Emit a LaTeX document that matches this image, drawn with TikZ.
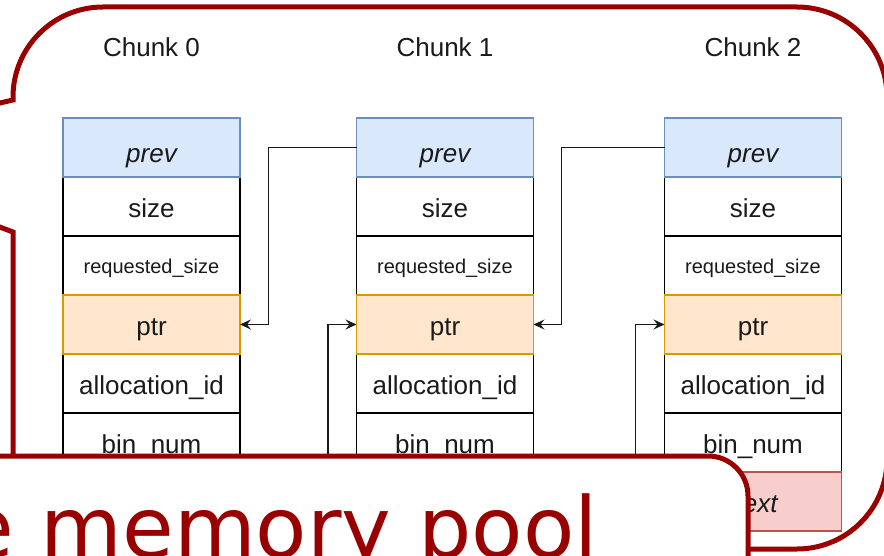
\documentclass[tikz,border=0pt]{standalone}
\usepackage{fontspec}
\setmainfont{Liberation Sans}
\newfontfamily\bannerfont{DejaVu Sans}
\usetikzlibrary{arrows.meta}
\definecolor{poolred}{HTML}{990000}
\definecolor{prevfill}{HTML}{DAE8FC}
\definecolor{prevline}{HTML}{6C8EBF}
\definecolor{ptrfill}{HTML}{FFE6CC}
\definecolor{ptrline}{HTML}{D79B00}
\definecolor{nextfill}{HTML}{F8CECC}
\definecolor{nextline}{HTML}{B85450}
\definecolor{ink}{HTML}{1A1A1A}
\tikzset{
  field/.style={draw=black, fill=white, line width=1.5pt, minimum width=177pt,
    minimum height=59pt, inner sep=0pt, outer sep=0pt, text=ink,
    text height=24pt, text depth=2pt, font=\fontsize{26}{30}\selectfont},
  smallfield/.style={field, text height=18pt, text depth=2pt,
    font=\fontsize{20}{24}\selectfont},
  prevfield/.style={field, fill=prevfill, draw=prevline,
    text height=32pt, text depth=2pt, font=\fontsize{26}{30}\selectfont\itshape},
  ptrfield/.style={field, fill=ptrfill, draw=ptrline, text height=23pt},
  nextfield/.style={field, fill=nextfill, draw=nextline,
    font=\fontsize{26}{30}\selectfont\itshape},
  chunklabel/.style={text=ink, font=\fontsize{26}{30}\selectfont, inner sep=0pt, anchor=base},
  link/.style={draw=ink, line width=1.5pt, -{Stealth[length=11pt,width=10pt,inset=4pt]}},
  bubble/.style={draw=poolred, line width=5pt, fill=white, line join=miter},
  banner/.style={draw=poolred, line width=5pt, fill=white},
  bannertext/.style={text=poolred, inner sep=0pt, font=\bannerfont\fontsize{84}{96}\selectfont},
}
\begin{document}
\begin{tikzpicture}[x=1pt,y=-1pt]
\clip (0,0) rectangle (884,556);
% speech-bubble frame with its tail pointing left
\path[bubble] (13,100) -- (13,97) .. controls (13,47.3) and (53.3,7) .. (103,7)
  -- (797,7) .. controls (846.7,7) and (887,47.3) .. (887,97)
  -- (887,459) .. controls (887,508.7) and (846.7,549) .. (797,549)
  -- (103,549) .. controls (53.3,549) and (13,508.7) .. (13,459)
  -- (13,232) -- (-205,150) -- cycle;
% the three chunks
\foreach \i/\cx in {0/151.5,1/445,2/753}{
  \node[chunklabel] (chunk\i) at (\cx,57) {Chunk \i};
  \node[field] (c\i-size) at (\cx,206.5) {size};
  \node[smallfield] (c\i-req) at (\cx,265.5) {requested\_size};
  \node[field] (c\i-alloc) at (\cx,383.5) {allocation\_id};
  \node[field] (c\i-bin) at (\cx,442.5) {bin\_num};
  \node[prevfield] (c\i-prev) at (\cx,147.5) {prev};
  \node[ptrfield] (c\i-ptr) at (\cx,324.5) {ptr};
}
% next fields (the first two lie under the banner)
\node[nextfield] (c0-next) at (151.5,501.5) {};
\node[nextfield] (c1-next) at (445,501.5) {};
\node[nextfield] (c2-next) at (753,501.5) {next};
% prev / next links
\draw[link] (c1-prev.west) -- ++(-88,0) |- (c0-ptr.east);
\draw[link] (c2-prev.west) -- ++(-103,0) |- (c1-ptr.east);
\draw[link] (c0-next.east) -- ++(88,0) |- (c1-ptr.west);
\draw[link] (c1-next.east) -- ++(102,0) |- (c2-ptr.west);
% title banner
\path[banner] (-100,640) -- (-100,456) -- (708,456)
  .. controls (730.1,456) and (748,473.9) .. (748,496) -- (748,640) -- cycle;
\node[bannertext, anchor=base east] (title) at (598,557) {e memory pool};
\end{tikzpicture}
\end{document}
